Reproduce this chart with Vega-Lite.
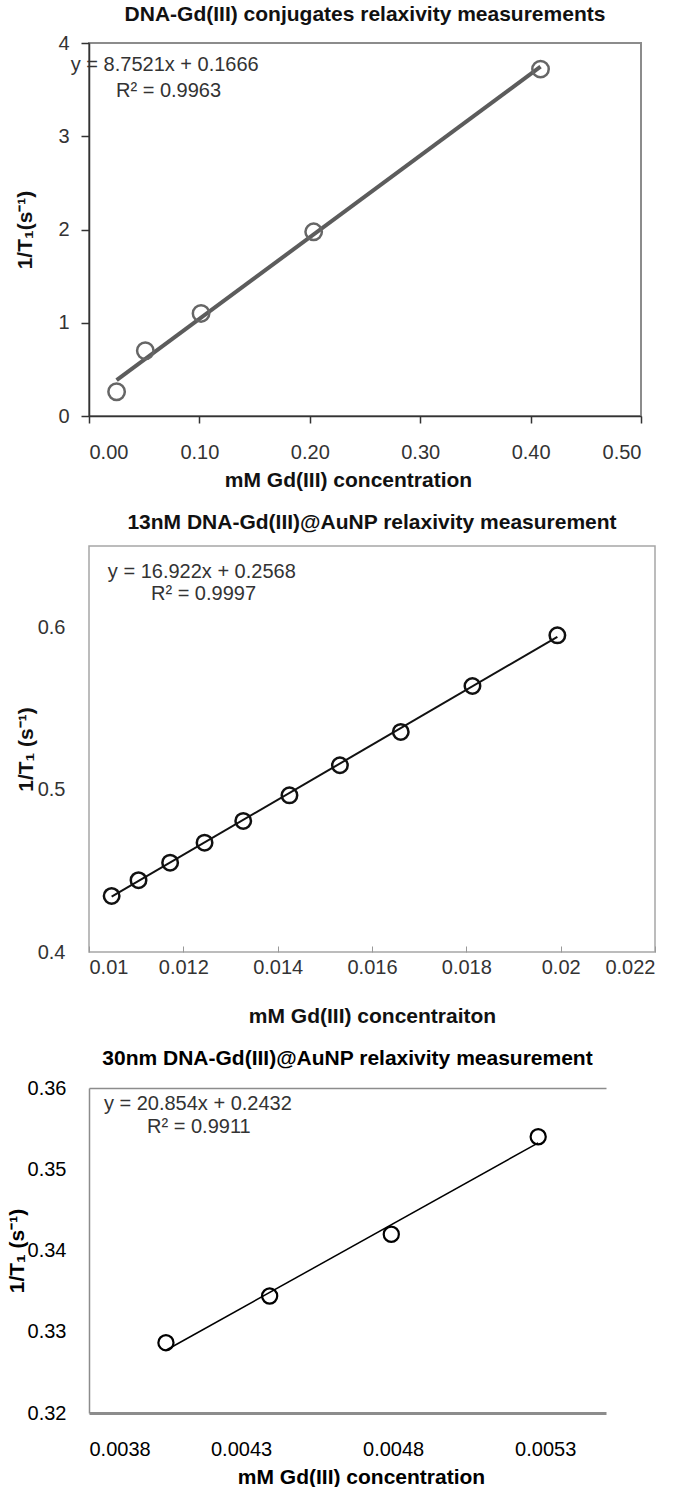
{
  "$schema": "https://vega.github.io/schema/vega-lite/v6.json",
  "background": "white",
  "padding": {"left": 6, "top": 3, "right": 5, "bottom": 2},
  "config": {
    "font": "Liberation Sans",
    "axis": {"grid": false, "labelFont": "Liberation Sans", "titleFont": "Liberation Sans"},
    "title": {"font": "Liberation Sans"}
  },
  "datasets": {
    "p1pts": [
      {"x": 0.025, "y": 0.26}, {"x": 0.051, "y": 0.70}, {"x": 0.1015, "y": 1.10},
      {"x": 0.2035, "y": 1.975}, {"x": 0.409, "y": 3.72}
    ],
    "p1fit": [{"x": 0.025, "y": 0.385}, {"x": 0.409, "y": 3.746}],
    "p1txt": [
      {"x": -0.0165, "y": 3.76, "t": "y = 8.7521x  + 0.1666"},
      {"x": 0.0245, "y": 3.49, "t": "R² = 0.9963"}
    ],
    "p2pts": [
      {"x": 0.01048, "y": 0.4345}, {"x": 0.01105, "y": 0.4442}, {"x": 0.01172, "y": 0.455},
      {"x": 0.01245, "y": 0.4673}, {"x": 0.01327, "y": 0.4807}, {"x": 0.01425, "y": 0.4965},
      {"x": 0.01532, "y": 0.515}, {"x": 0.01661, "y": 0.5355}, {"x": 0.01813, "y": 0.5638},
      {"x": 0.01993, "y": 0.595}
    ],
    "p2fit": [{"x": 0.01048, "y": 0.43414}, {"x": 0.01993, "y": 0.59406}],
    "p2txt": [
      {"x": 0.0104, "y": 0.634, "t": "y = 16.922x  + 0.2568"},
      {"x": 0.011314, "y": 0.6204, "t": "R² = 0.9997"}
    ],
    "p3pts": [
      {"x": 0.004053, "y": 0.32865}, {"x": 0.004394, "y": 0.3344},
      {"x": 0.004794, "y": 0.342}, {"x": 0.005277, "y": 0.354}
    ],
    "p3fit": [{"x": 0.004053, "y": 0.32772}, {"x": 0.005277, "y": 0.35325}],
    "p3txt": [
      {"x": 0.003849, "y": 0.35803, "t": "y = 20.854x  + 0.2432"},
      {"x": 0.003991, "y": 0.3552, "t": "R² = 0.9911"}
    ]
  },
  "columns": 1,
  "align": "none",
  "spacing": 20,
  "concat": [
    {
      "width": 552,
      "height": 373,
      "title": {"text": "DNA-Gd(III) conjugates relaxivity measurements", "fontSize": 21, "fontWeight": "bold", "color": "#111", "offset": 8},
      "view": {"stroke": "#8c8c8c", "strokeWidth": 2},
      "layer": [
        {
          "data": {"name": "p1fit"},
          "mark": {"type": "line", "color": "#5c5c5c", "strokeWidth": 4},
          "encoding": {
            "x": {"field": "x", "type": "quantitative", "scale": {"domain": [0, 0.5], "nice": false, "zero": false},
              "axis": {"values": [0, 0.1, 0.2, 0.3, 0.4, 0.5], "format": ".2f", "domainColor": "#333", "domainWidth": 1.5, "tickColor": "#333", "tickSize": 7, "tickWidth": 1.5,
                "labelFontSize": 20, "labelColor": "#333", "labelPadding": 19, "title": "mM Gd(III) concentration", "titleFontSize": 21, "titleFontWeight": "bold", "titleColor": "#111", "titlePadding": 7, "titleX": 259}},
            "y": {"field": "y", "type": "quantitative", "scale": {"domain": [0, 4], "nice": false, "zero": false},
              "axis": {"values": [0, 1, 2, 3, 4], "format": "d", "domainColor": "#333", "domainWidth": 1.5, "tickColor": "#333", "tickSize": 8, "tickWidth": 1.5,
                "labelFontSize": 20, "labelColor": "#333", "labelPadding": 12, "title": "1/T₁(s⁻¹)", "titleFontSize": 21, "titleFontWeight": "bold", "titleColor": "#111", "titlePadding": 22}}
          }
        },
        {
          "data": {"name": "p1pts"},
          "mark": {"type": "point", "shape": "circle", "filled": false, "size": 270, "strokeWidth": 2.5, "color": "#666", "opacity": 1},
          "encoding": {
            "x": {"field": "x", "type": "quantitative"},
            "y": {"field": "y", "type": "quantitative"}
          }
        },
        {
          "data": {"name": "p1txt"},
          "mark": {"type": "text", "align": "left", "baseline": "middle", "fontSize": 20, "color": "#333"},
          "encoding": {
            "x": {"field": "x", "type": "quantitative"},
            "y": {"field": "y", "type": "quantitative"},
            "text": {"field": "t"}
          }
        }
      ]
    },
    {
      "columns": 1,
      "align": "none",
      "spacing": 21,
      "concat": [
        {
          "width": 566,
          "height": 406,
          "title": {"text": "13nM DNA-Gd(III)@AuNP relaxivity measurement", "fontSize": 21, "fontWeight": "bold", "color": "#111", "offset": 13},
          "view": {"stroke": "#a6a6a6", "strokeWidth": 1.5},
          "layer": [
            {
              "data": {"name": "p2fit"},
              "mark": {"type": "line", "color": "#111", "strokeWidth": 2},
              "encoding": {
                "x": {"field": "x", "type": "quantitative", "scale": {"domain": [0.01, 0.022], "nice": false, "zero": false},
                  "axis": {"values": [0.01, 0.012, 0.014, 0.016, 0.018, 0.02, 0.022], "format": ".3~f", "domain": false, "tickColor": "#999", "tickSize": -6, "tickWidth": 1,
                    "labelFontSize": 20, "labelColor": "#333", "labelPadding": 11, "title": "mM Gd(III) concentraiton", "titleFontSize": 21, "titleFontWeight": "bold", "titleColor": "#111", "titlePadding": 28}},
                "y": {"field": "y", "type": "quantitative", "scale": {"domain": [0.4, 0.65], "nice": false, "zero": false},
                  "axis": {"values": [0.4, 0.5, 0.6], "format": ".1f", "domain": false, "ticks": false,
                    "labelFontSize": 20, "labelColor": "#333", "labelPadding": 24, "title": "1/T₁ (s⁻¹)", "titleFontSize": 21, "titleFontWeight": "bold", "titleColor": "#111", "titlePadding": 1}}
              }
            },
            {
              "data": {"name": "p2pts"},
              "mark": {"type": "point", "shape": "circle", "filled": false, "size": 240, "strokeWidth": 2.5, "color": "#111", "opacity": 1},
              "encoding": {
                "x": {"field": "x", "type": "quantitative"},
                "y": {"field": "y", "type": "quantitative"}
              }
            },
            {
              "data": {"name": "p2txt"},
              "mark": {"type": "text", "align": "left", "baseline": "middle", "fontSize": 20, "color": "#333"},
              "encoding": {
                "x": {"field": "x", "type": "quantitative"},
                "y": {"field": "y", "type": "quantitative"},
                "text": {"field": "t"}
              }
            }
          ]
        },
        {
          "width": 517,
          "height": 325,
          "title": {"text": "30nm DNA-Gd(III)@AuNP relaxivity measurement", "fontSize": 21, "fontWeight": "bold", "color": "#000", "offset": 9},
          "view": {"stroke": null},
          "resolve": {"axis": {"x": "independent"}},
          "layer": [
            {
              "data": {"name": "p3pts"},
              "mark": {"type": "point", "shape": "circle", "filled": false, "size": 230, "strokeWidth": 2.2, "color": "#000", "opacity": 1},
              "encoding": {
                "x": {"field": "x", "type": "quantitative", "scale": {"domain": [0.0038, 0.0055], "nice": false, "zero": false},
                  "axis": {"values": [0.0038, 0.0043, 0.0048, 0.0053], "format": ".4f", "domainColor": "#8c8c8c", "domainWidth": 3, "ticks": false,
                    "labelFontSize": 20, "labelColor": "#000", "labelPadding": 26, "title": "mM Gd(III) concentration", "titleFontSize": 21, "titleFontWeight": "bold", "titleColor": "#000", "titlePadding": 7, "titleX": 272}},
                "y": {"field": "y", "type": "quantitative", "scale": {"domain": [0.32, 0.36], "nice": false, "zero": false},
                  "axis": {"values": [0.32, 0.33, 0.34, 0.35, 0.36], "format": ".2f", "domainColor": "#8c8c8c", "domainWidth": 1.5, "ticks": false,
                    "labelFontSize": 20, "labelColor": "#000", "labelPadding": 23, "title": "1/T₁ (s⁻¹)", "titleFontSize": 21, "titleFontWeight": "bold", "titleColor": "#000", "titlePadding": 0}}
              }
            },
            {
              "data": {"name": "p3fit"},
              "mark": {"type": "line", "color": "#000", "strokeWidth": 1.5},
              "encoding": {
                "x": {"field": "x", "type": "quantitative",
                  "axis": {"orient": "top", "labels": false, "ticks": false, "title": null, "domainColor": "#8c8c8c", "domainWidth": 1.5}},
                "y": {"field": "y", "type": "quantitative"}
              }
            },
            {
              "data": {"name": "p3txt"},
              "mark": {"type": "text", "align": "left", "baseline": "middle", "fontSize": 20, "color": "#333"},
              "encoding": {
                "x": {"field": "x", "type": "quantitative", "axis": null},
                "y": {"field": "y", "type": "quantitative"},
                "text": {"field": "t"}
              }
            }
          ]
        }
      ]
    }
  ]
}
